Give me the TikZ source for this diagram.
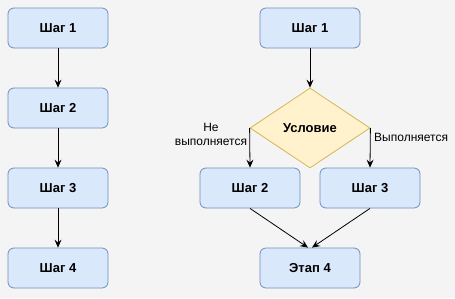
\documentclass[tikz,border=0pt]{standalone}
\usepackage{fontspec}
\setmainfont{Liberation Sans}
\usetikzlibrary{shapes.geometric,arrows.meta}
\definecolor{bg}{HTML}{F4F4F4}
\definecolor{bfill}{HTML}{DAE8FC}
\definecolor{bdraw}{HTML}{6C8EBF}
\definecolor{dfill}{HTML}{FFF2CC}
\definecolor{ddraw}{HTML}{D6B656}
\tikzset{
  stepbox/.style={draw=bdraw,fill=bfill,rounded corners=6pt,minimum width=100pt,minimum height=40pt,inner sep=0pt,font=\fontsize{13pt}{15pt}\selectfont\bfseries,line width=0.8pt},
  condbox/.style={draw=ddraw,fill=dfill,diamond,minimum width=120pt,minimum height=80pt,inner sep=0pt,font=\fontsize{13pt}{15pt}\selectfont\bfseries,line width=0.8pt},
  conn/.style={draw=black,line width=0.8pt,-{Stealth[length=8pt,width=7pt,inset=3pt]}},
  lbl/.style={font=\fontsize{12pt}{14pt}\selectfont,inner sep=0pt}
}
\begin{document}
\begin{tikzpicture}[x=1pt,y=-1pt]
\fill[bg] (0,0) rectangle (455,298);
\useasboundingbox (0,0) rectangle (455,298);
% left column
\node[stepbox] (a1) at (58,28) {Шаг 1};
\node[stepbox] (a2) at (58,108) {Шаг 2};
\node[stepbox] (a3) at (58,188) {Шаг 3};
\node[stepbox] (a4) at (58,268) {Шаг 4};
\draw[conn] (a1) -- (a2);
\draw[conn] (a2) -- (a3);
\draw[conn] (a3) -- (a4);
% right
\node[stepbox] (b1) at (310,28) {Шаг 1};
\node[condbox] (c) at (310,128) {Условие};
\node[stepbox] (b2) at (250,188) {Шаг 2};
\node[stepbox] (b3) at (370,188) {Шаг 3};
\node[stepbox] (b4) at (310,268) {Этап 4};
\draw[conn] (b1) -- (c);
\draw[conn] (c.west) -- (b2.north);
\draw[conn] (c.east) -- (b3.north);
\draw[conn] (b2.south) -- ([xshift=-2pt]b4.north);
\draw[conn] (b3.south) -- ([xshift=2pt]b4.north);
\node[lbl,align=center] (ln) at (211,134) {Не\\выполняется};
\node[lbl,anchor=west] (ly) at (374,137) {Выполняется};
\end{tikzpicture}
\end{document}
